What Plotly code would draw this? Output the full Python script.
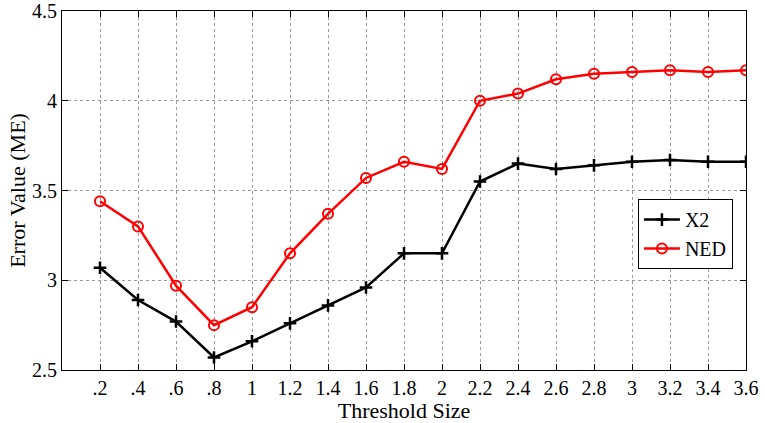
import plotly.graph_objects as go

x_vals = [0.2, 0.4, 0.6, 0.8, 1.0, 1.2, 1.4, 1.6, 1.8, 2.0, 2.2, 2.4, 2.6, 2.8, 3.0, 3.2, 3.4, 3.6]
x_labels = [".2", ".4", ".6", ".8", "1", "1.2", "1.4", "1.6", "1.8", "2", "2.2", "2.4", "2.6", "2.8", "3", "3.2", "3.4", "3.6"]
x2_vals = [3.07, 2.89, 2.77, 2.57, 2.66, 2.76, 2.86, 2.96, 3.15, 3.15, 3.55, 3.65, 3.62, 3.64, 3.66, 3.67, 3.66, 3.66]
ned_vals = [3.44, 3.30, 2.97, 2.75, 2.85, 3.15, 3.37, 3.57, 3.66, 3.62, 4.00, 4.04, 4.12, 4.15, 4.16, 4.17, 4.16, 4.17]
y_ticks = [2.5, 3, 3.5, 4, 4.5]
y_labels = ["2.5", "3", "3.5", "4", "4.5"]

FONT = "Liberation Serif"

fig = go.Figure()
fig.add_trace(go.Scatter(
    x=x_vals, y=x2_vals, mode="lines+markers", name="X2",
    line=dict(color="black", width=2.5),
    marker=dict(symbol="cross-thin-open", size=9, line=dict(color="black", width=2.5)),
))
fig.add_trace(go.Scatter(
    x=x_vals, y=ned_vals, mode="lines+markers", name="NED",
    line=dict(color="red", width=2.5),
    marker=dict(symbol="circle-open", size=10, color="red", line=dict(color="red", width=2)),
))

axis_common = dict(
    showline=True, linecolor="black", linewidth=1.2, mirror="ticks",
    ticks="inside", ticklen=6, tickcolor="black", tickwidth=1,
    showgrid=True, gridcolor="#999999", griddash="dot", gridwidth=1,
    zeroline=False, automargin=False, ticklabeloverflow="allow",
    tickfont=dict(family=FONT, size=20, color="black"),
)

fig.update_xaxes(
    range=[0, 3.6], tickmode="array", tickvals=x_vals, ticktext=x_labels,
    title=dict(text="Threshold Size", font=dict(family=FONT, size=22, color="black"), standoff=2),
    **axis_common,
)
fig.update_yaxes(
    range=[2.5, 4.5], tickmode="array", tickvals=y_ticks, ticktext=y_labels,
    title=dict(text="Error Value (ME)", font=dict(family=FONT, size=22, color="black"), standoff=0),
    **axis_common,
)

fig.update_layout(
    width=765, height=423,
    margin=dict(l=62, r=19, t=11, b=53),
    plot_bgcolor="white", paper_bgcolor="white",
    font=dict(family=FONT, size=20, color="black"),
    legend=dict(
        x=0.842, y=0.476, xanchor="left", yanchor="top",
        bgcolor="white", bordercolor="black", borderwidth=1,
        font=dict(family=FONT, size=20, color="black"),
        tracegroupgap=0, itemwidth=36,
    ),
)

fig.write_html("out.html")
